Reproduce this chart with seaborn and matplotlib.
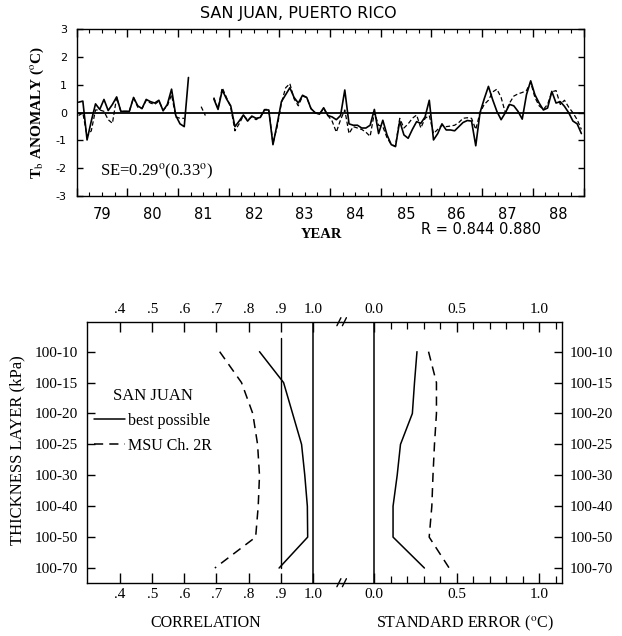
import numpy as np
import pandas as pd
import matplotlib
matplotlib.use("Agg")
import matplotlib.pyplot as plt
from matplotlib.lines import Line2D
import seaborn as sns

sns.set_theme(style="ticks")
plt.rcParams["font.family"] = ["DejaVu Sans"]
plt.rcParams["mathtext.fontset"] = "stix"
plt.rcParams["axes.edgecolor"] = "black"
plt.rcParams["xtick.color"] = "black"
plt.rcParams["ytick.color"] = "black"
plt.rcParams["text.color"] = "black"
plt.rcParams["axes.labelcolor"] = "black"
plt.rcParams["axes.unicode_minus"] = False

nan = np.nan

# ---------------- data: monthly Tb anomaly, San Juan ----------------
years = list(range(1979, 1989))
months = list(range(1, 13))
best_possible = [
    .38, .42, -.98, -.30, .32, .12, .48, .08, .30, .57, .05, .05,      # 1979
    .05, .55, .25, .15, .48, .40, .35, .45, .07, .30, .85, -.10,       # 1980
    -.40, -.50, 1.27, nan, nan, nan, nan, nan, .50, .12, .82, .50,     # 1981
    .25, -.50, -.30, -.08, -.30, -.12, -.20, -.17, .10, .10, -1.15, -.40,  # 1982
    .40, .65, .90, .55, .35, .63, .55, .15, .00, -.05, .18, -.10,      # 1983
    -.15, -.25, -.10, .82, -.40, -.45, -.45, -.55, -.55, -.45, .12, -.75,  # 1984
    -.27, -.80, -1.15, -1.22, -.30, -.80, -.92, -.60, -.32, -.38, -.15, .45,  # 1985
    -.98, -.75, -.40, -.62, -.62, -.65, -.50, -.35, -.28, -.30, -1.19, .00,  # 1986
    .50, .95, .47, .05, -.25, .00, .30, .25, .05, -.23, .65, 1.15,     # 1987
    .65, .35, .10, .17, .77, .35, .40, .23, .00, -.30, -.40, -.75,     # 1988
]
msu_2r = [
    -.10, .00, -.85, -.65, .10, .10, .05, -.25, -.38, .55, .05, .05,   # 1979
    .05, .55, .20, .15, .45, .35, .30, .42, .10, .25, .65, -.15,       # 1980
    -.20, -.20, nan, nan, nan, .22, -.10, nan, .55, .15, .90, .55,     # 1981
    .20, -.65, -.40, -.10, -.25, -.15, -.25, -.15, .12, .12, -1.10, -.50,  # 1982
    .35, .90, 1.05, .50, .25, .60, .55, .15, .00, -.05, .15, -.10,     # 1983
    -.30, -.70, -.25, .10, -.75, -.50, -.55, -.60, -.70, -.85, .00, -.45,  # 1984
    -.50, -.90, -1.15, -1.20, -.20, -.55, -.40, -.20, -.08, -.55, -.20, -.10,  # 1985
    -.75, -.60, -.45, -.50, -.48, -.45, -.35, -.20, -.18, -.20, -.60, .00,  # 1986
    .30, .45, .75, .85, .55, .00, .35, .60, .68, .73, .80, 1.10,       # 1987
    .55, .25, .12, .30, .75, .80, .30, .45, .20, .00, -.25, -.60,      # 1988
]
year_labels = ["79", "80", "81", "82", "83", "84", "85", "86", "87", "88"]

# ---------------- data: thickness layer statistics ----------------
layers = ["100-10", "100-15", "100-20", "100-25", "100-30", "100-40", "100-50", "100-70"]
corr_best = [0.834, 0.909, 0.937, 0.965, 0.975, 0.983, 0.984, 0.895]
corr_msu = [0.710, 0.778, 0.813, 0.828, 0.834, 0.830, 0.822, 0.695]
se_best = [0.260, 0.245, 0.232, 0.160, 0.140, 0.115, 0.115, 0.305]
se_msu = [0.330, 0.378, 0.378, 0.366, 0.357, 0.350, 0.334, 0.455]
corr_ticks = [0.4, 0.5, 0.6, 0.7, 0.8, 0.9, 1.0]
corr_ticklabels = [".4", ".5", ".6", ".7", ".8", ".9", "1.0"]
se_ticks = [0.0, 0.5, 1.0]
se_ticklabels = ["0.0", "0.5", "1.0"]


def series_frame(values):
    v = np.array(values, dtype=float)
    yr = np.repeat(years, 12)
    mo = np.tile(months, len(years))
    df = pd.DataFrame({"t": yr + (mo - 0.5) / 12.0, "v": v,
                       "seg": np.cumsum(np.isnan(v))})
    return df.dropna()


W, H = 622, 636
fig = plt.figure(figsize=(W / 100, H / 100), dpi=100)


def fr(x0, y0, x1, y1):
    return [x0 / W, 1 - y1 / H, (x1 - x0) / W, (y1 - y0) / H]


# ================= top panel =================
ax1 = fig.add_axes(fr(76.5, 29.5, 583.5, 196))
sns.lineplot(data=series_frame(best_possible), x="t", y="v", units="seg",
             estimator=None, color="black", lw=1.2, ax=ax1)
sns.lineplot(data=series_frame(msu_2r), x="t", y="v", units="seg",
             estimator=None, color="black", lw=0.9, linestyle=(0, (3.5, 2)), ax=ax1)
ax1.axhline(0, color="black", lw=1.3, zorder=1)
ax1.set_xlim(1979, 1989)
ax1.set_ylim(-3, 3)
ax1.set_xticks(np.arange(1979, 1990), labels=[""] * 11)
ax1.set_xticks(np.arange(1979, 1989.01, 0.25), minor=True)
ax1.tick_params(axis="x", which="major", direction="in", length=6, width=1,
                top=True, bottom=True)
ax1.tick_params(axis="x", which="minor", direction="in", length=3, width=0.8,
                top=True, bottom=True)
ax1.set_yticks(range(-3, 4), labels=["-3", "-2", "-1", "0", "1", "2", "3"])
ax1.tick_params(axis="y", direction="in", length=4, width=1, left=True, right=True,
                labelsize=8, pad=7)
for s in ax1.spines.values():
    s.set_linewidth(1.0)
ax1.set_xlabel("")
ax1.set_ylabel(r"T$_{\rm b}$ ANOMALY ($^{\rm o}$C)", fontfamily="Liberation Serif",
               fontweight="bold", fontsize=11)
ax1.yaxis.set_label_coords(-0.06, 0.5)
sec = ax1.secondary_xaxis("bottom")
sec.set_xticks(np.array(years) + 0.5, labels=year_labels)
sec.tick_params(length=0, labelsize=10.5, pad=8)
sec.spines["bottom"].set_visible(False)
ax1.text(0.047, 0.145, r"SE=0.29$^{\rm o}$(0.33$^{\rm o}$)", transform=ax1.transAxes,
         fontfamily="Liberation Serif", fontsize=12, va="center", ha="left")

fig.text(298 / W, 1 - 13.5 / H, "SAN JUAN, PUERTO RICO", ha="center", va="center",
         fontsize=11.5)
fig.text(321 / W, 1 - 235 / H, "YEAR", ha="center", va="center",
         fontfamily="Liberation Serif", fontweight="bold", fontsize=10.5)
fig.text(421 / W, 1 - 230 / H, "R = 0.844 0.880", ha="left", va="center",
         fontsize=10.5)

# ================= bottom panel =================
ypos = np.arange(len(layers))
axL = fig.add_axes(fr(86.7, 321.7, 341.4, 582.7))
axR = fig.add_axes(fr(341.4, 321.7, 561.7, 582.7))

sns.lineplot(x=corr_best, y=ypos, orient="y", estimator=None, color="black", lw=1.1,
             ax=axL, label="best possible")
sns.lineplot(x=corr_msu, y=ypos, orient="y", estimator=None, color="black", lw=1.1,
             linestyle=(0, (6, 4)), ax=axL, label="MSU Ch. 2R")
sns.lineplot(x=se_best, y=ypos, orient="y", estimator=None, color="black", lw=1.1,
             ax=axR, legend=False)
sns.lineplot(x=se_msu, y=ypos, orient="y", estimator=None, color="black", lw=1.1,
             linestyle=(0, (6, 4)), ax=axR, legend=False)

axL.axvline(1.0, color="black", lw=1.1)
axL.axvline(0.9, ymin=(7.475 - 7) / 8.445, ymax=(7.475 + 0.43) / 8.445,
            color="black", lw=1.0)
axR.axvline(0.0, color="black", lw=1.1)

ylim = (7.475, -0.97)
axL.set_xlim(0.296, 1.089)
axR.set_xlim(-0.198, 1.137)
for a in (axL, axR):
    a.set_ylim(*ylim)
    a.set_xlabel("")
    a.set_ylabel("")
    for s in a.spines.values():
        s.set_linewidth(1.0)

serif = "Liberation Serif"
axL.set_xticks(corr_ticks, labels=corr_ticklabels, fontfamily=serif, fontsize=11)
axL.tick_params(axis="x", direction="in", length=7, width=1, top=True, bottom=True,
                labeltop=True, labelbottom=True, pad=4)
axL.set_yticks(ypos, labels=layers, fontfamily=serif, fontsize=11)
axL.tick_params(axis="y", direction="in", length=6, width=1, left=True, right=False,
                pad=6)
axL.spines["right"].set_visible(False)

axR.set_xticks(se_ticks, labels=se_ticklabels, fontfamily=serif, fontsize=11)
axR.set_xticks(np.arange(0.1, 1.15, 0.1), minor=True)
axR.tick_params(axis="x", which="major", direction="in", length=7, width=1, top=True,
                bottom=True, labeltop=True, labelbottom=True, pad=4)
axR.tick_params(axis="x", which="minor", direction="in", length=5, width=0.9,
                top=True, bottom=True)
axR.set_yticks(ypos, labels=layers, fontfamily=serif, fontsize=11)
axR.tick_params(axis="y", direction="in", length=6, width=1, left=False, right=True,
                labelleft=False, labelright=True, pad=6)
axR.spines["left"].set_visible(False)

leg = axL.legend(title="SAN JUAN", loc="upper left", bbox_to_anchor=(0.03, 0.745),
                 frameon=False, borderpad=0, borderaxespad=0, handlelength=1.9,
                 handletextpad=0.2, labelspacing=0.55,
                 prop={"family": serif, "size": 11.5},
                 title_fontproperties={"family": serif, "size": 12})

fig.text(206 / W, 1 - 623 / H, "CORRELATION", ha="center", va="center",
         fontfamily=serif, fontsize=11.5)
fig.text(465 / W, 1 - 623 / H, r"STANDARD ERROR ($^{\rm o}$C)", ha="center",
         va="center", fontfamily=serif, fontsize=11.5)
fig.text(17 / W, 1 - 450 / H, "THICKNESS LAYER (kPa)", ha="center", va="center",
         rotation=90, fontfamily=serif, fontsize=12)

# axis-break marks "//"
for yb in (321.7, 582.7):
    for dx in (-4.5, 1.0):
        x0, x1 = 341.4 + dx, 341.4 + dx + 4
        fig.add_artist(Line2D([x0 / W, x1 / W], [1 - (yb + 4) / H, 1 - (yb - 4) / H],
                              color="black", lw=1.0))

fig.savefig("out.png", dpi=100)
